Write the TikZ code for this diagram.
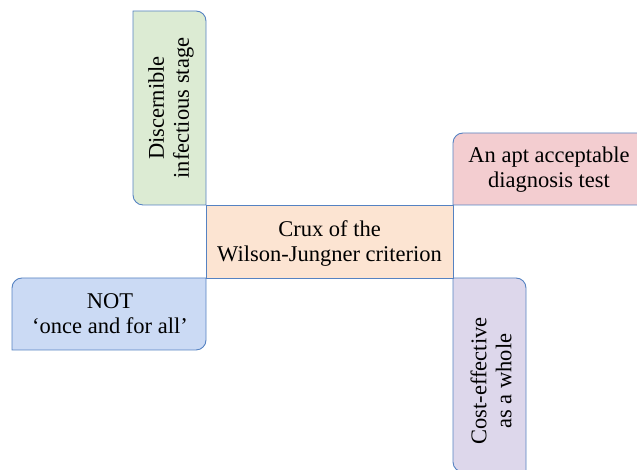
\documentclass[tikz,border=0pt]{standalone}
\usepackage{fontspec}
\setmainfont{Liberation Serif}
\usepackage{xcolor}
\usepackage{tikz}
\definecolor{edgeblue}{HTML}{5582C2}
\definecolor{cruxfill}{HTML}{FCE4D2}
\definecolor{greenfill}{HTML}{DCEBD3}
\definecolor{pinkfill}{HTML}{F3CDD0}
\definecolor{bluefill}{HTML}{CBDAF4}
\definecolor{lilacfill}{HTML}{DDD7EB}
\tikzset{
  edge/.style={draw=edgeblue,line width=0.9pt},
  lbl/.style={align=center,font=\fontsize{22.5}{25}\selectfont},
  hub/.style={edge,fill=cruxfill,minimum width=247pt,minimum height=73pt,inner sep=0pt}
}
% box with rounded top-right and bottom-left corners
\newcommand{\leafr}[5]{\path[edge,fill=#1] (#2,#5) -- (#4-10,#5) arc[start angle=90,end angle=0,radius=10pt]
  -- (#4,#3) -- (#2+10,#3) arc[start angle=270,end angle=180,radius=10pt] -- cycle;}
% box with rounded top-left and bottom-right corners
\newcommand{\leafl}[5]{\path[edge,fill=#1] (#2,#5-10) arc[start angle=180,end angle=90,radius=10pt]
  -- (#4,#5) -- (#4,#3+10) arc[start angle=0,end angle=-90,radius=10pt] -- (#2,#3) -- cycle;}

\begin{document}
\begin{tikzpicture}[x=1pt,y=1pt]
\useasboundingbox (0,0) rectangle (637,470);
\clip (0,0) rectangle (637,470);
\leafr{greenfill}{133}{265}{206}{459}
\leafl{pinkfill}{453}{265}{660}{337}
\leafl{bluefill}{12}{120}{206}{192}
\leafr{lilacfill}{453}{-2}{526}{192}
\node[hub] (crux) at (329.5,228.5) {};
\node[lbl] (cruxtext) at (329.5,226.5) {Crux of the\\Wilson-Jungner criterion};
\node[lbl,rotate=90] (stage) at (171,362) {Discernible\\infectious stage};
\node[lbl] (test) at (549,300) {An apt acceptable\\diagnosis test};
\node[lbl] (once) at (110,156) {NOT\\‘once and for all’};
\node[lbl,rotate=90] (cost) at (491,89) {Cost-effective\\as a whole};
\end{tikzpicture}
\end{document}
